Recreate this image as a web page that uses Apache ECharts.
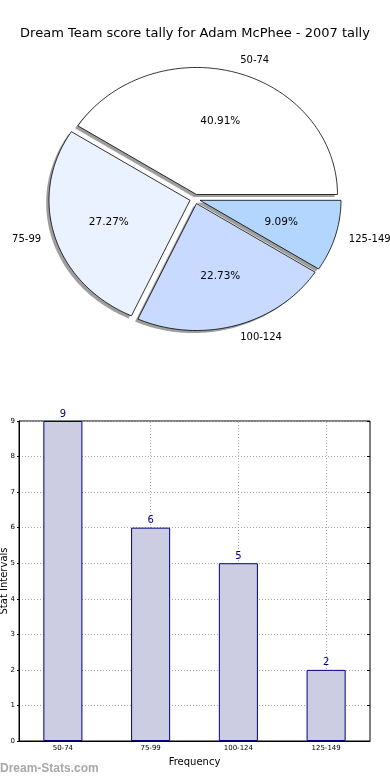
<!DOCTYPE html>
<html>
<head>
<meta charset="utf-8">
<script src="https://cdn.jsdelivr.net/npm/echarts@6/dist/echarts.min.js"></script>
<style>
html,body{margin:0;padding:0;background:#fff;}
#c{width:390px;height:780px;}
</style>
</head>
<body>
<div id="c"></div>
<script>
// ---- data ----
const chartTitle = 'Dream Team score tally for Adam McPhee - 2007 tally';
const categories = ['50-74', '75-99', '100-124', '125-149'];
const counts = [9, 6, 5, 2];
const sliceColors = ['#ffffff', '#ebf2ff', '#c8daff', '#b3d6ff'];
const yTickValues = [0, 1, 2, 3, 4, 5, 6, 7, 8, 9];
const yAxisName = 'Stat Intervals';
const xAxisName = 'Frequency';
const watermark = 'Dream-Stats.com';

// ---- helpers ----
const FONT = 'DejaVu Sans';
const total = counts.reduce((a, b) => a + b, 0);
const EXPLODE = 0.037;
function sliceAngles(i) {
  let before = 0;
  for (let k = 0; k < i; k++) before += counts[k];
  const s = before / total * 360;
  const e = (before + counts[i]) / total * 360;
  return [s, e];
}
function wedgePts(i, api, dx, dy) {
  const [s, e] = sliceAngles(i);
  const mid = (s + e) / 2 * Math.PI / 180;
  const ox = EXPLODE * Math.cos(mid) + dx, oy = EXPLODE * Math.sin(mid) + dy;
  const pts = [api.coord([ox, oy])];
  const n = Math.max(2, Math.ceil(e - s));
  for (let k = 0; k <= n; k++) {
    const a = (s + (e - s) * k / n) * Math.PI / 180;
    pts.push(api.coord([ox + Math.cos(a), oy + Math.sin(a)]));
  }
  return pts;
}

const chart = echarts.init(document.getElementById('c'), null, {renderer: 'canvas'});
const pieData = counts.map((v, i) => ({name: categories[i], value: [i, v]}));
const gridDot = {color: '#a8a8a8', type: [1, 2], width: 1};

chart.setOption({
  animation: false,
  backgroundColor: '#ffffff',
  title: {
    text: chartTitle, left: 'center', top: 22,
    textStyle: {fontFamily: FONT, fontSize: 13, fontWeight: 'normal', color: '#000'}
  },
  graphic: [{
    type: 'text', left: 0, top: 763,
    style: {text: watermark, fontFamily: 'Liberation Sans', fontSize: 12, fontWeight: 'bold', fill: '#a8a8a8'}
  }],
  grid: [
    {left: 54, top: 72, width: 282, height: 254, show: false, outerBoundsMode: 'none', containLabel: false},
    {left: 19, top: 421, right: 20, bottom: 39, show: true, borderColor: '#000', borderWidth: 1,
     backgroundColor: 'transparent', outerBoundsMode: 'none', containLabel: false}
  ],
  xAxis: [
    {gridIndex: 0, type: 'value', min: -1, max: 1, show: false},
    {
      gridIndex: 1, type: 'category', data: categories,
      name: xAxisName, nameLocation: 'middle', nameGap: 16, nameMoveOverlap: false,
      nameTextStyle: {fontFamily: FONT, fontSize: 10, color: '#000'},
      axisLine: {lineStyle: {color: '#000'}},
      axisTick: {alignWithLabel: true, inside: true, length: 3, lineStyle: {color: '#000'}},
      axisLabel: {fontFamily: FONT, fontSize: 7, color: '#000', margin: 4},
      splitLine: {show: false}
    }
  ],
  yAxis: [
    {gridIndex: 0, type: 'value', min: -1, max: 1, show: false},
    {
      gridIndex: 1, type: 'value', min: yTickValues[0], max: yTickValues[yTickValues.length - 1], interval: 1,
      name: yAxisName, nameLocation: 'middle', nameGap: 10, nameRotate: 90, nameMoveOverlap: false,
      nameTextStyle: {fontFamily: FONT, fontSize: 10, color: '#000'},
      axisLine: {show: true, lineStyle: {color: '#000'}},
      axisTick: {show: true, inside: false, length: 2, lineStyle: {color: '#000'}},
      axisLabel: {fontFamily: FONT, fontSize: 7, color: '#000', margin: 4},
      splitLine: {show: true, lineStyle: gridDot}
    },
    {
      gridIndex: 1, type: 'value', position: 'right', min: yTickValues[0], max: yTickValues[yTickValues.length - 1], interval: 1,
      axisLine: {show: false}, axisLabel: {show: false}, splitLine: {show: false},
      axisTick: {show: true, inside: true, length: 3, lineStyle: {color: '#000'}}
    }
  ],
  series: [
    {
      type: 'custom', xAxisIndex: 0, yAxisIndex: 0, z: 1, silent: true,
      data: pieData,
      renderItem: function (params, api) {
        const i = params.dataIndex;
        return {
          type: 'polygon',
          shape: {points: wedgePts(i, api, -0.02, -0.02)},
          style: {fill: 'rgba(40,40,40,0.45)', stroke: 'none'}
        };
      }
    },
    {
      type: 'custom', xAxisIndex: 0, yAxisIndex: 0, z: 2, silent: true,
      data: pieData,
      renderItem: function (params, api) {
        const i = params.dataIndex;
        const [s, e] = sliceAngles(i);
        const mid = (s + e) / 2 * Math.PI / 180;
        const c = Math.cos(mid), sn = Math.sin(mid);
        const lp = api.coord([(1.1 + EXPLODE) * c, (1.1 + EXPLODE) * sn]);
        const pp = api.coord([(0.6 + EXPLODE) * c, (0.6 + EXPLODE) * sn]);
        const pct = (counts[i] / total * 100).toFixed(2) + '%';
        return {
          type: 'group',
          children: [
            {type: 'polygon', shape: {points: wedgePts(i, api, 0, 0)},
             style: {fill: sliceColors[i], stroke: '#000', lineWidth: 0.8}},
            {type: 'text', x: lp[0], y: lp[1],
             style: {text: categories[i], align: c > 0 ? 'left' : 'right', verticalAlign: 'middle',
                     fontFamily: FONT, fontSize: 10, fill: '#000'}},
            {type: 'text', x: pp[0], y: pp[1],
             style: {text: pct, align: 'center', verticalAlign: 'middle',
                     fontFamily: FONT, fontSize: 10.5, fill: '#000'}}
          ]
        };
      }
    },
    {
      type: 'bar', xAxisIndex: 1, yAxisIndex: 1, data: counts, barWidth: '44.5%',
      itemStyle: {color: '#ccccE3', borderColor: '#000080', borderWidth: 1},
      label: {show: true, position: 'top', distance: 2, color: '#000080', fontFamily: FONT, fontSize: 10},
      markLine: {
        silent: true, symbol: 'none', label: {show: false}, z: 1,
        lineStyle: gridDot,
        data: categories.map(c => ({xAxis: c}))
      }
    }
  ]
});
</script>
</body>
</html>
